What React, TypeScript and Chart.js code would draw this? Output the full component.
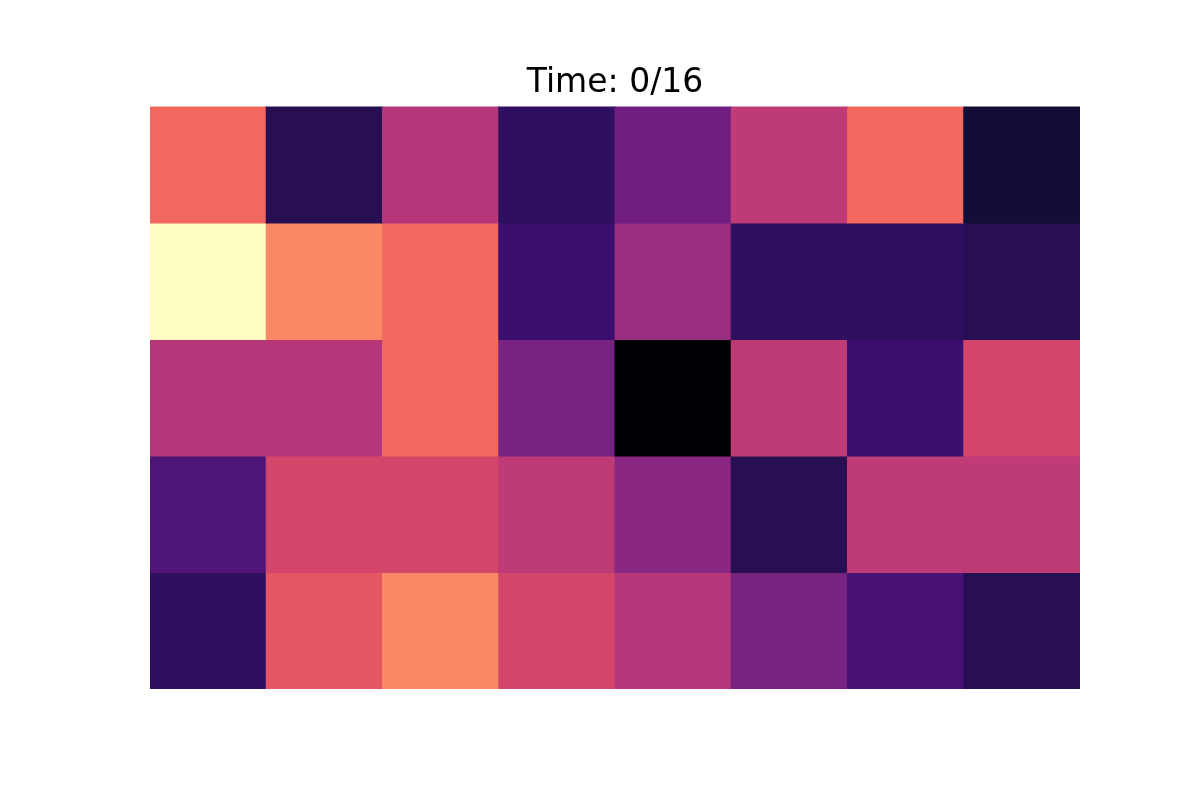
import React, { useEffect, useRef } from "react";
import { Chart, registerables } from "chart.js";

Chart.register(...registerables);

const columns = ["0", "1", "2", "3", "4", "5", "6", "7"];
const rowLabels = ["0", "1", "2", "3", "4"];
const row0 = [0.68, 0.15, 0.495, 0.17, 0.33, 0.52, 0.68, 0.1];
const row1 = [1.0, 0.75, 0.68, 0.2, 0.43, 0.17, 0.17, 0.15];
const row2 = [0.495, 0.495, 0.68, 0.35, 0.0, 0.52, 0.2, 0.575];
const row3 = [0.25, 0.575, 0.575, 0.52, 0.395, 0.15, 0.52, 0.52];
const row4 = [0.17, 0.63, 0.75, 0.575, 0.495, 0.35, 0.235, 0.15];
const rows = [row0, row1, row2, row3, row4];
const titleText = "Time: 0/16";

const magmaStops = [
  "#000004", "#140e36", "#3b0f70", "#641a80", "#8c2981", "#b73779",
  "#de4968", "#f7705c", "#fe9f6d", "#fecf92", "#fcfdbf",
];

function hexToRgb(h: string) {
  return [parseInt(h.slice(1, 3), 16), parseInt(h.slice(3, 5), 16), parseInt(h.slice(5, 7), 16)];
}

function magma(t: number) {
  const v = Math.max(0, Math.min(1, t)) * (magmaStops.length - 1);
  const i = Math.min(Math.floor(v), magmaStops.length - 2);
  const f = v - i;
  const a = hexToRgb(magmaStops[i]);
  const b = hexToRgb(magmaStops[i + 1]);
  const c = a.map((x, k) => Math.round(x + (b[k] - x) * f));
  return `rgb(${c[0]},${c[1]},${c[2]})`;
}

export default function App() {
  const ref = useRef<HTMLCanvasElement | null>(null);
  useEffect(() => {
    document.body.style.margin = "0";
    document.body.style.background = "#ffffff";
    const datasets = rows.map((vals, r) => ({
      label: rowLabels[r],
      data: vals.map(() => [r, r + 1]),
      backgroundColor: vals.map((v) => magma(v)),
      borderWidth: 0,
      inflateAmount: 0.5,
      barPercentage: 1,
      categoryPercentage: 1,
      grouped: false,
    }));
    const chart = new Chart(ref.current as HTMLCanvasElement, {
      type: "bar",
      data: { labels: columns, datasets: datasets as any },
      options: {
        animation: false,
        responsive: false,
        maintainAspectRatio: false,
        layout: { padding: { left: 150, right: 120, top: 0, bottom: 111 } },
        plugins: {
          legend: { display: false },
          tooltip: { enabled: false },
          title: {
            display: true,
            text: titleText,
            color: "#000000",
            font: { family: "DejaVu Sans", size: 33, weight: "normal" },
            padding: { top: 64, bottom: 3 },
          },
        },
        scales: {
          x: { display: false, offset: true, grid: { display: false } },
          y: { display: false, reverse: true, min: 0, max: 5, grid: { display: false } },
        },
      },
    });
    return () => chart.destroy();
  }, []);
  return (
    <div style={{ width: 1200, height: 800, position: "relative" }}>
      <canvas ref={ref} width={1200} height={800} style={{ width: 1200, height: 800 }} />
    </div>
  );
}
